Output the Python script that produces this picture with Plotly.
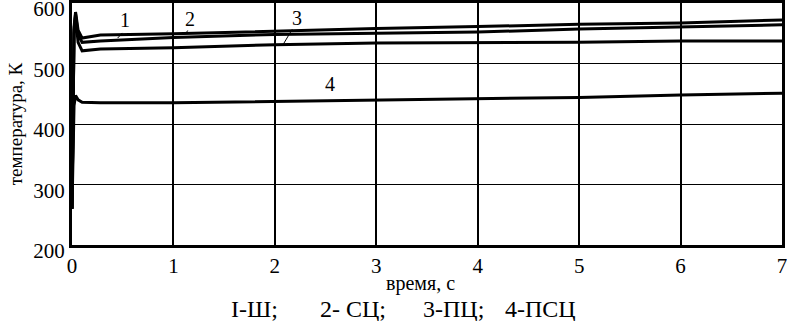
import plotly.graph_objects as go

t = [0, 0.02, 0.035, 0.06, 0.1, 0.28, 1, 2, 3, 4, 5, 6, 7]
curve_2 = [260, 560, 585, 555, 542, 547, 549, 554, 558, 561, 565, 567, 572]
curve_1 = [260, 555, 582, 548, 535, 537, 543, 548, 550, 552, 557, 560, 564]
curve_3 = [260, 550, 578, 535, 521, 524, 526, 531, 534, 534, 535, 537, 537]
curve_4 = [260, 430, 447, 440, 436, 435, 435, 437, 440, 442, 444, 448, 451]

x_ticks = [0, 1, 2, 3, 4, 5, 6, 7]
y_ticks = [200, 300, 400, 500, 600]
legend_items = ["I-Ш;", "2- СЦ;", "3-ПЦ;", "4-ПСЦ"]

FONT = "Liberation Serif, Times New Roman, serif"
L, R, T, B, W, H = 72, 5, 3, 76, 787, 321
pw, ph = W - L - R, H - T - B


def px(x):
    return (x - L) / pw


def py(y):
    return (H - B - y) / ph


fig = go.Figure()
for name, ys in [("2", curve_2), ("1", curve_1), ("3", curve_3), ("4", curve_4)]:
    fig.add_trace(go.Scatter(x=t, y=ys, mode="lines", name=name,
                             line=dict(color="black", width=3), showlegend=False))

# curve labels (text position, leader start, leader end)
labels = [
    ("1", 0.52, 572, 0.51, 553, 0.45, 542),
    ("2", 1.16, 574, 1.15, 557, 1.12, 549),
    ("3", 2.22, 575, 2.18, 559, 2.08, 531),
]
for txt, tx, ty, sx, sy, ex, ey in labels:
    fig.add_annotation(x=ex, y=ey, ax=sx, ay=sy, xref="x", yref="y",
                       axref="x", ayref="y", showarrow=True, arrowhead=0,
                       arrowwidth=1, arrowcolor="black", text="")
    fig.add_annotation(x=tx, y=ty, text=txt, showarrow=False,
                       font=dict(family=FONT, size=20, color="black"),
                       xanchor="center", yanchor="middle")
fig.add_annotation(x=2.54, y=466, text="4", showarrow=False,
                   font=dict(family=FONT, size=20, color="black"),
                   xanchor="center", yanchor="middle")

fig.add_annotation(x=px(420), y=py(283), xref="paper", yref="paper", text="время, с",
                   xanchor="center", yanchor="middle", showarrow=False,
                   font=dict(family=FONT, size=20, color="black"))
for txt, xl in zip(legend_items, [229, 318, 421, 503]):
    fig.add_annotation(x=px(xl), y=py(309), xref="paper", yref="paper", text=txt,
                       xanchor="left", yanchor="middle", showarrow=False,
                       font=dict(family=FONT, size=24, color="black"))

fig.update_layout(
    width=W, height=H,
    margin=dict(l=L, r=R, t=T, b=B, autoexpand=False),
    paper_bgcolor="white", plot_bgcolor="white",
    font=dict(family=FONT, size=19, color="black"),
    xaxis=dict(range=[0, 7], tickvals=x_ticks, showgrid=True, gridcolor="black",
               gridwidth=2, showline=True, linecolor="black", linewidth=3,
               mirror=True, zeroline=False, ticks="", tickfont=dict(size=21),
               automargin=False, ticklabeloverflow="allow"),
    yaxis=dict(range=[200, 600], tickvals=y_ticks, showgrid=True, gridcolor="black",
               gridwidth=1, showline=True, linecolor="black", linewidth=3,
               mirror=True, zeroline=False, ticks="", tickfont=dict(size=21),
               automargin=False, ticklabeloverflow="allow", ticklabelshift=6,
               title=dict(text="температура, К", font=dict(size=19), standoff=6)),
)

fig.write_html("out.html", config={"displayModeBar": False},
               post_script="document.body.style.margin='0';")
